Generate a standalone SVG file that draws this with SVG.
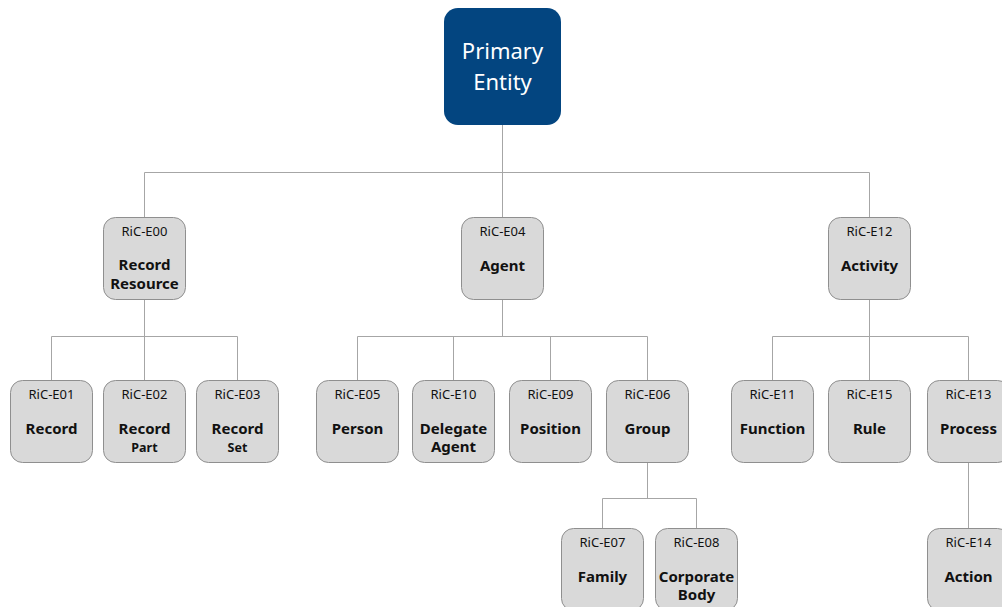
<svg xmlns="http://www.w3.org/2000/svg" width="1002" height="607" viewBox="0 0 1002 607">
<style>
.bx{fill:#d9d9d9;stroke:#8f8f8f;stroke-width:1}
.cd{font-family:"Noto Sans","Open Sans",sans-serif;font-size:13px;fill:#111;text-anchor:middle}
.lb{font-family:"Noto Sans","Open Sans",sans-serif;font-size:15px;font-weight:bold;fill:#111;text-anchor:middle}
.sm{font-family:"Noto Sans","Open Sans",sans-serif;font-size:12.5px;font-weight:bold;fill:#111;text-anchor:middle}
.pt{font-family:"Noto Sans","Open Sans",sans-serif;font-size:22px;fill:#fff;text-anchor:middle}
.ln{fill:none;stroke:#a6a6a6;stroke-width:1}
</style>
<rect width="1002" height="607" fill="#fff"/>
<g id="connectors">
<path class="ln" d="M502.5,125V172.5M144.5,172.5H869.5M144.5,172.5V217M502.5,172.5V217M869.5,172.5V217"/>
<path class="ln" d="M144.5,299V336.5M51.5,336.5H237.5M51.5,336.5V380M144.5,336.5V380M237.5,336.5V380"/>
<path class="ln" d="M502.5,299V336.5M357.5,336.5H647.5M357.5,336.5V380M453.5,336.5V380M550.5,336.5V380M647.5,336.5V380"/>
<path class="ln" d="M869.5,299V336.5M772.5,336.5H968.5M772.5,336.5V380M869.5,336.5V380M968.5,336.5V380"/>
<path class="ln" d="M647.5,462V498.5M602.5,498.5H696.5M602.5,498.5V528M696.5,498.5V528"/>
<path class="ln" d="M968.5,462V528"/>
</g>
<g id="primary">
<rect x="444" y="8" width="117" height="117" rx="14" fill="#034580"/>
<text class="pt" x="502.5" y="59">Primary</text>
<text class="pt" x="502.5" y="90">Entity</text>
</g>
<g id="e00"><rect class="bx" x="103.5" y="217.5" width="82" height="82" rx="12"/><text class="cd" x="144.5" y="236">RiC-E00</text><text class="lb" x="144.5" y="270">Record</text><text class="lb" x="144.5" y="289">Resource</text></g>
<g id="e04"><rect class="bx" x="461.5" y="217.5" width="82" height="82" rx="12"/><text class="cd" x="502.5" y="236">RiC-E04</text><text class="lb" x="502.5" y="271">Agent</text></g>
<g id="e12"><rect class="bx" x="828.5" y="217.5" width="82" height="82" rx="12"/><text class="cd" x="869.5" y="236">RiC-E12</text><text class="lb" x="869.5" y="271">Activity</text></g>
<g id="e01"><rect class="bx" x="10.5" y="380.5" width="82" height="82" rx="12"/><text class="cd" x="51.5" y="399">RiC-E01</text><text class="lb" x="51.5" y="434">Record</text></g>
<g id="e02"><rect class="bx" x="103.5" y="380.5" width="82" height="82" rx="12"/><text class="cd" x="144.5" y="399">RiC-E02</text><text class="lb" x="144.5" y="434">Record</text><text class="sm" x="144.5" y="452">Part</text></g>
<g id="e03"><rect class="bx" x="196.5" y="380.5" width="82" height="82" rx="12"/><text class="cd" x="237.5" y="399">RiC-E03</text><text class="lb" x="237.5" y="434">Record</text><text class="sm" x="237.5" y="452">Set</text></g>
<g id="e05"><rect class="bx" x="316.5" y="380.5" width="82" height="82" rx="12"/><text class="cd" x="357.5" y="399">RiC-E05</text><text class="lb" x="357.5" y="434">Person</text></g>
<g id="e10"><rect class="bx" x="412.5" y="380.5" width="82" height="82" rx="12"/><text class="cd" x="453.5" y="399">RiC-E10</text><text class="lb" x="453.5" y="434">Delegate</text><text class="lb" x="453.5" y="452">Agent</text></g>
<g id="e09"><rect class="bx" x="509.5" y="380.5" width="82" height="82" rx="12"/><text class="cd" x="550.5" y="399">RiC-E09</text><text class="lb" x="550.5" y="434">Position</text></g>
<g id="e06"><rect class="bx" x="606.5" y="380.5" width="82" height="82" rx="12"/><text class="cd" x="647.5" y="399">RiC-E06</text><text class="lb" x="647.5" y="434">Group</text></g>
<g id="e11"><rect class="bx" x="731.5" y="380.5" width="82" height="82" rx="12"/><text class="cd" x="772.5" y="399">RiC-E11</text><text class="lb" x="772.5" y="434">Function</text></g>
<g id="e15"><rect class="bx" x="828.5" y="380.5" width="82" height="82" rx="12"/><text class="cd" x="869.5" y="399">RiC-E15</text><text class="lb" x="869.5" y="434">Rule</text></g>
<g id="e13"><rect class="bx" x="927.5" y="380.5" width="82" height="82" rx="12"/><text class="cd" x="968.5" y="399">RiC-E13</text><text class="lb" x="968.5" y="434">Process</text></g>
<g id="e07"><rect class="bx" x="561.5" y="528.5" width="82" height="82" rx="12"/><text class="cd" x="602.5" y="547">RiC-E07</text><text class="lb" x="602.5" y="582">Family</text></g>
<g id="e08"><rect class="bx" x="655.5" y="528.5" width="82" height="82" rx="12"/><text class="cd" x="696.5" y="547">RiC-E08</text><text class="lb" x="696.5" y="582">Corporate</text><text class="lb" x="696.5" y="600">Body</text></g>
<g id="e14"><rect class="bx" x="927.5" y="528.5" width="82" height="82" rx="12"/><text class="cd" x="968.5" y="547">RiC-E14</text><text class="lb" x="968.5" y="582">Action</text></g>
</svg>
